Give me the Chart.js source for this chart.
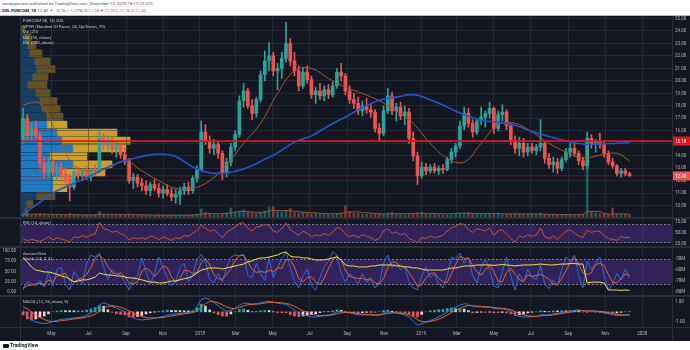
<!DOCTYPE html>
<html>
<head>
<meta charset="utf-8">
<title>FUNCOM SE, 1D</title>
<script src="https://cdn.jsdelivr.net/npm/chart.js@4.4.1/dist/chart.umd.min.js"></script>
<style>
  html, body { margin: 0; padding: 0; }
  body { width: 690px; height: 350px; position: relative; overflow: hidden; background: #fff; font-family: Roboto, "Liberation Sans", sans-serif; }
  .abs { position: absolute; }
  #panel { left: 0; top: 15px; width: 690px; height: 326px; background: #131722; border-top: 1px solid #b8bcc6; box-sizing: border-box; }
  .head { left: 2px; font-size: 4.3px; line-height: 6px; color: #50535e; white-space: nowrap; }
  .head b { color: #131722; }
  .red { color: #ef5350; }
  .leg { left: 23px; font-size: 4.4px; line-height: 5.6px; color: #c3c6ce; white-space: nowrap; }
  .hsep { left: 0; width: 690px; height: 2px; background: #2a2e39; }
  .vsep { top: 16px; width: 1px; height: 325px; background: #2a2e39; }
  canvas { position: absolute; left: 0; }
  #logo { left: 3px; top: 342px; font-size: 5px; line-height: 7px; font-weight: bold; color: #131722; }
  #logo span { display: inline-block; width: 6px; height: 4px; background: #131722; border-radius: 1px; margin-right: 1px; vertical-align: -0.5px; }
</style>
</head>
<body>
<div id="panel" class="abs"></div>
<div class="abs head" style="top:1px">savepiginvest published on TradingView.com, December 13, 2019 18:19:10 UTC</div>
<div class="abs head" style="top:8px"><b>OSL:FUNCOM, 1D</b> 12.40 <span class="red">▼</span> −0.16 (−1.27%) O:<span class="red">12.58</span> H:<span class="red">12.59</span> L:<span class="red">12.36</span> C:<span class="red">12.40</span></div>

<canvas id="vp" width="690" height="201" style="top:16px"></canvas>
<canvas id="price" width="690" height="201" style="top:16px"></canvas>
<div class="abs hsep" style="top:217px"></div>
<canvas id="rsi" width="690" height="27" style="top:219px"></canvas>
<div class="abs hsep" style="top:246px"></div>
<canvas id="stoch" width="690" height="47" style="top:248px"></canvas>
<div class="abs hsep" style="top:295px"></div>
<canvas id="macd" width="690" height="44" style="top:297px"></canvas>
<div class="abs hsep" style="top:327px;height:1px"></div>
<div class="abs vsep" style="left:20px"></div>
<div class="abs vsep" style="left:672px"></div>

<div class="abs leg" style="top:18px">FUNCOM SE, 1D, OSL<br>VPVR (Number Of Rows, 24, Up/Down, 70)<br>Vol (20)<br>MA (50, close)<br>MA (200, close)</div>
<div class="abs leg" style="top:220px">RSI (14, close)</div>
<div class="abs leg" style="top:250.5px;line-height:5px">Accum/Dist<br>Stoch (14, 3, 3)</div>
<div class="abs leg" style="top:298.5px">MACD (12, 26, close, 9)</div>
<div id="logo" class="abs"><span></span>TradingView</div>

<script>
// weekly bars, Mon 13 Mar 2017 .. Mon 9 Dec 2019
const open = [
  15.4, 17.0, 15.6, 16.2, 15.6, 13.4, 12.6, 13.5, 12.7, 13.1,
  12.5, 12.2, 11.5, 12.7, 12.4, 12.8, 12.3, 12.9, 12.8, 15.4,
  14.9, 15.2, 14.5, 14.8, 14.1, 13.6, 12.0, 12.3, 11.8, 11.6,
  11.2, 11.7, 11.4, 11.0, 11.3, 11.0, 10.7, 10.9, 11.2, 11.5,
  11.2, 12.2, 12.9, 15.9, 15.2, 14.6, 14.9, 14.2, 12.6, 13.5,
  14.7, 15.7, 18.4, 19.2, 18.0, 17.4, 18.5, 20.5, 21.6, 22.0,
  20.8, 21.0, 21.8, 23.0, 21.6, 20.8, 19.6, 20.7, 20.1, 18.9,
  19.2, 18.8, 19.3, 18.9, 19.6, 20.7, 20.4, 19.2, 18.5, 18.2,
  17.6, 18.0, 17.7, 17.5, 16.2, 15.8, 17.6, 18.8, 17.6, 17.9,
  17.2, 17.5, 15.4, 14.0, 12.4, 13.1, 12.8, 13.1, 12.8, 13.0,
  12.9, 13.7, 14.3, 14.8, 16.4, 17.4, 16.6, 15.9, 16.8, 17.1,
  17.4, 17.8, 16.2, 17.3, 17.5, 16.4, 15.2, 14.6, 15.0, 14.3,
  14.7, 14.4, 14.7, 15.0, 13.8, 13.3, 13.5, 13.0, 13.7, 14.3,
  14.6, 14.2, 13.6, 13.2, 15.4, 14.9, 15.1, 14.9, 14.2, 13.5,
  13.2, 12.6, 12.8, 12.56
];
const high = [
  17.8, 17.3, 16.6, 16.8, 15.9, 13.9, 13.9, 13.8, 13.4, 13.5,
  13.0, 12.5, 12.9, 13.1, 13.0, 13.2, 13.0, 13.3, 16.1, 15.8,
  15.6, 15.5, 15.1, 15.2, 14.6, 13.8, 12.6, 12.5, 12.2, 12.0,
  11.9, 12.1, 11.8, 11.6, 11.7, 11.4, 11.3, 11.5, 11.8, 11.9,
  12.4, 13.2, 16.8, 16.5, 15.6, 15.3, 15.2, 14.4, 13.8, 15.0,
  16.0, 18.8, 19.8, 19.4, 18.5, 18.7, 20.8, 22.4, 23.1, 22.3,
  21.4, 22.3, 24.7, 23.4, 22.3, 21.2, 21.1, 21.2, 20.4, 19.5,
  19.8, 19.6, 19.7, 19.9, 21.0, 21.4, 20.6, 19.6, 19.0, 18.7,
  18.4, 18.6, 18.2, 17.7, 16.6, 18.0, 19.4, 19.1, 18.2, 18.3,
  18.0, 17.8, 15.9, 14.3, 13.5, 13.4, 13.3, 13.4, 13.2, 13.3,
  13.9, 14.6, 15.0, 16.8, 17.9, 17.8, 16.9, 17.0, 17.9, 17.6,
  18.3, 17.9, 17.6, 18.1, 17.7, 16.6, 15.6, 15.5, 15.4, 15.0,
  15.0, 14.9, 16.9, 15.2, 14.2, 13.9, 13.8, 13.9, 14.6, 15.0,
  15.0, 14.4, 13.9, 15.9, 15.7, 15.3, 15.8, 15.2, 14.4, 13.8,
  13.3, 13.0, 13.0, 12.7
];
const low = [
  15.0, 15.3, 15.2, 15.4, 13.0, 12.2, 12.3, 12.4, 12.0, 12.2,
  11.8, 10.4, 11.3, 12.1, 12.0, 12.1, 12.0, 12.4, 12.6, 14.5,
  14.4, 14.2, 13.9, 13.8, 13.3, 11.8, 11.4, 11.5, 11.2, 10.9,
  10.8, 11.2, 10.7, 10.6, 10.8, 10.4, 10.2, 10.1, 10.9, 10.9,
  11.0, 11.9, 12.8, 14.9, 14.2, 14.1, 13.8, 12.1, 12.3, 13.2,
  14.4, 15.5, 17.9, 17.8, 16.9, 17.1, 18.3, 20.0, 20.8, 20.4,
  19.3, 20.2, 21.5, 21.2, 20.4, 19.2, 19.4, 19.8, 18.6, 18.2,
  18.5, 18.4, 18.6, 18.7, 19.4, 20.0, 18.9, 18.2, 17.8, 17.3,
  17.2, 17.4, 17.1, 15.9, 15.2, 15.6, 17.4, 17.3, 16.8, 16.9,
  16.5, 15.0, 13.6, 11.7, 12.2, 12.5, 12.6, 12.6, 12.5, 12.6,
  12.8, 13.4, 13.9, 14.6, 16.1, 16.3, 15.5, 15.7, 16.5, 16.3,
  17.0, 15.8, 16.0, 16.8, 16.1, 14.9, 14.2, 14.0, 13.9, 14.0,
  14.2, 14.1, 14.4, 13.4, 13.0, 12.7, 12.6, 12.8, 13.5, 13.9,
  14.0, 13.3, 12.9, 13.0, 14.6, 14.3, 14.6, 13.9, 13.3, 13.0,
  12.4, 12.3, 12.4, 12.36
];
const close = [
  17.0, 15.6, 16.2, 15.6, 13.4, 12.6, 13.5, 12.7, 13.1, 12.5,
  12.2, 11.5, 12.7, 12.4, 12.8, 12.3, 12.9, 12.8, 15.4, 14.9,
  15.2, 14.5, 14.8, 14.1, 13.6, 12.0, 12.3, 11.8, 11.6, 11.2,
  11.7, 11.4, 11.0, 11.3, 11.0, 10.7, 10.9, 11.2, 11.5, 11.2,
  12.2, 12.9, 15.9, 15.2, 14.6, 14.9, 14.2, 12.6, 13.5, 14.7,
  15.7, 18.4, 19.2, 18.0, 17.4, 18.5, 20.5, 21.6, 22.0, 20.8,
  21.0, 21.8, 23.0, 21.6, 20.8, 19.6, 20.7, 20.1, 18.9, 19.2,
  18.8, 19.3, 18.9, 19.6, 20.7, 20.4, 19.2, 18.5, 18.2, 17.6,
  18.0, 17.7, 17.5, 16.2, 15.8, 17.6, 18.8, 17.6, 17.9, 17.2,
  17.5, 15.4, 14.0, 12.4, 13.1, 12.8, 13.1, 12.8, 13.0, 12.9,
  13.7, 14.3, 14.8, 16.4, 17.4, 16.6, 15.9, 16.8, 17.1, 17.4,
  17.8, 16.2, 17.3, 17.5, 16.4, 15.2, 14.6, 15.0, 14.3, 14.7,
  14.4, 14.7, 15.0, 13.8, 13.3, 13.5, 13.0, 13.7, 14.3, 14.6,
  14.2, 13.6, 13.2, 15.4, 14.9, 15.1, 14.9, 14.2, 13.5, 13.2,
  12.6, 12.8, 12.56, 12.40
];
// thousand shares
const volume = [
  30, 25, 22, 28, 35, 26, 20, 24, 18, 22,
  20, 34, 25, 18, 16, 20, 18, 22, 55, 30,
  24, 20, 22, 18, 20, 32, 26, 22, 18, 20,
  16, 18, 22, 15, 18, 20, 16, 22, 18, 16,
  26, 30, 80, 45, 30, 24, 22, 36, 40, 90,
  50, 60, 70, 50, 40, 36, 45, 60, 95, 100,
  55, 50, 60, 85, 45, 40, 45, 35, 30, 40,
  30, 28, 25, 30, 35, 40, 110, 55, 40, 35,
  30, 28, 25, 30, 35, 30, 40, 45, 30, 28,
  25, 24, 30, 40, 45, 35, 28, 25, 24, 22,
  20, 22, 30, 35, 40, 45, 35, 30, 28, 32,
  30, 35, 40, 30, 26, 32, 40, 34, 30, 28,
  26, 24, 40, 26, 24, 22, 20, 22, 18, 22,
  20, 24, 26, 640, 50, 40, 35, 30, 28, 90,
  30, 28, 26, 24
];
const volMa = [
  28, 27, 27, 27, 28, 28, 27, 26, 25, 24,
  24, 25, 24, 23, 22, 21, 20, 21, 25, 26,
  27, 27, 26, 25, 24, 24, 24, 23, 22, 21,
  20, 19, 19, 19, 18, 18, 18, 18, 18, 18,
  19, 21, 28, 33, 35, 34, 32, 33, 35, 42,
  48, 52, 55, 53, 50, 47, 46, 50, 58, 65,
  66, 64, 65, 62, 58, 52, 48, 44, 42, 40,
  37, 35, 33, 32, 33, 35, 45, 50, 52, 50,
  46, 42, 38, 35, 32, 30, 31, 32, 32, 33,
  33, 34, 36, 38, 38, 37, 36, 34, 33, 32,
  32, 33, 35, 37, 38, 38, 36, 34, 33, 33,
  34, 34, 34, 33, 32, 31, 30, 30, 31, 32,
  31, 30, 29, 28, 27, 26, 25, 25, 25, 24,
  24, 24, 25, 55, 55, 56, 56, 35, 30, 30,
  32, 31, 30, 29
];

// moving averages, read every fourth week
const maWeeks = [0, 4, 8, 12, 16, 20, 24, 28, 32, 36, 40, 44, 48, 52, 56, 60, 64, 68, 72,
  76, 80, 84, 88, 92, 96, 100, 104, 108, 112, 116, 120, 124, 128, 132, 136, 140, 143];
const ma50 = [18.1, 18.2, 15.8, 13.2, 12.8, 13.0, 13.6, 12.8, 12.0, 11.4, 11.4, 12.0, 13.3,
  15.0, 16.6, 19.0, 20.8, 21.0, 20.2, 19.5, 19.0, 18.4, 17.6, 16.6, 15.0, 13.8, 13.5, 15.0,
  16.5, 16.6, 15.9, 15.0, 14.3, 13.8, 14.05, 14.2, 13.6];
const ma200 = [9.3, 10.3, 11.2, 11.8, 12.4, 13.1, 13.6, 13.95, 14.15, 13.95, 13.1, 12.64,
  12.64, 12.95, 13.55, 14.24, 15.1, 15.6, 16.4, 17.1, 17.85, 18.45, 18.7, 18.9, 18.5, 17.9,
  17.3, 16.85, 16.7, 16.45, 15.95, 15.55, 15.2, 14.95, 14.95, 15.0, 15.05];

// volume profile rows, top to bottom (thousand shares)
const vpPrices = [24.13, 23.49, 22.86, 22.22, 21.58, 20.95, 20.31, 19.68, 19.04, 18.40, 17.77, 17.13,
  16.50, 15.86, 15.22, 14.59, 13.95, 13.32, 12.68, 12.04, 11.41, 10.77, 10.14, 9.50];
const vpUp = [20, 50, 80, 100, 150, 170, 130, 80, 160, 200, 220, 270,
  270, 370, 420, 530, 300, 530, 400, 330, 330, 170, 70, 50];
const vpDown = [30, 60, 80, 120, 150, 180, 150, 190, 140, 170, 180, 160,
  200, 600, 680, 530, 370, 390, 450, 200, 140, 180, 60, 30];
const valueArea = [11.1, 16.8];

const rsi = [
  38, 33, 36, 34, 31, 36, 42, 35, 40, 37,
  34, 30, 42, 40, 45, 41, 46, 48, 75, 60,
  58, 52, 55, 49, 45, 35, 40, 37, 40, 36,
  44, 41, 35, 42, 38, 34, 40, 38, 45, 43,
  50, 56, 68, 62, 55, 58, 50, 40, 52, 58,
  64, 72, 74, 62, 55, 64, 66, 70, 68, 55,
  52, 60, 73, 58, 52, 45, 55, 50, 42, 46,
  44, 49, 45, 52, 63, 60, 48, 42, 46, 40,
  47, 43, 40, 34, 38, 56, 60, 50, 53, 46,
  50, 38, 34, 28, 40, 38, 44, 40, 42, 45,
  55, 62, 66, 72, 70, 58, 52, 60, 58, 55,
  62, 45, 56, 58, 48, 38, 30, 44, 40, 47,
  43, 46, 62, 42, 38, 44, 36, 46, 55, 58,
  50, 44, 40, 57, 52, 55, 54, 44, 38, 36,
  34, 42, 40, 41
];
const stochK = [
  5, 25, 20, 15, 28, 12, 48, 15, 55, 60,
  20, 5, 50, 35, 20, 70, 90, 85, 95, 60,
  30, 55, 45, 40, 25, 5, 30, 40, 83, 50,
  20, 45, 85, 60, 35, 15, 25, 60, 70, 25,
  40, 80, 92, 75, 30, 22, 45, 25, 60, 85,
  90, 88, 92, 40, 35, 70, 45, 28, 85, 35,
  60, 80, 97, 60, 25, 10, 40, 55, 15, 5,
  35, 62, 75, 98, 90, 45, 25, 45, 35, 20,
  45, 25, 30, 10, 20, 70, 90, 60, 70, 55,
  60, 25, 10, 5, 40, 60, 35, 45, 20, 10,
  40, 85, 80, 95, 70, 85, 40, 22, 60, 80,
  55, 15, 10, 50, 85, 40, 5, 45, 25, 55,
  35, 30, 65, 20, 8, 30, 15, 55, 85, 75,
  90, 40, 10, 75, 55, 70, 85, 40, 5, 20,
  45, 30, 56, 34
];
const stochD = [
  10, 15, 17, 20, 21, 18, 29, 25, 39, 43,
  45, 28, 25, 30, 35, 42, 60, 82, 90, 80,
  62, 48, 43, 47, 37, 23, 20, 25, 51, 58,
  51, 38, 50, 63, 60, 37, 25, 33, 52, 52,
  45, 48, 71, 82, 66, 42, 32, 31, 43, 57,
  78, 88, 90, 73, 56, 48, 50, 48, 53, 49,
  59, 58, 79, 79, 61, 32, 25, 35, 37, 25,
  18, 34, 57, 78, 88, 78, 53, 38, 35, 33,
  33, 30, 33, 22, 20, 33, 60, 73, 73, 62,
  62, 47, 32, 13, 18, 35, 45, 47, 33, 25,
  23, 45, 68, 87, 82, 83, 65, 49, 41, 54,
  65, 50, 27, 25, 48, 58, 43, 30, 25, 42,
  38, 40, 43, 38, 31, 19, 18, 33, 52, 72,
  83, 68, 47, 42, 47, 67, 70, 65, 43, 22,
  23, 32, 44, 40
];
// accumulation / distribution, millions
const accDist = [
  -49.6, -53, -57.6, -60.3, -61, -62, -62, -62.9, -64, -65.6,
  -66.5, -68.2, -70.9, -70, -69, -69, -68, -66.5, -63, -64,
  -64.7, -64.7, -65.6, -65.6, -66.5, -67.3, -67.3, -68, -69, -70,
  -71, -71, -71.8, -71.8, -71, -70, -70, -69, -68, -67.3,
  -65.6, -63, -60.3, -59.4, -58.5, -58.5, -58.5, -59.4, -58.5, -57.6,
  -56.7, -55.8, -55, -53, -52.3, -50.5, -49.6, -49.6, -48.8, -47.9,
  -47, -45.2, -44.3, -47.9, -48.8, -48.8, -49.6, -49.6, -50.5, -51.4,
  -51.4, -51.4, -50.5, -49.6, -48.8, -51.4, -55.8, -56.7, -56.7, -57.6,
  -57.6, -57.6, -56.7, -56.7, -55.8, -55.8, -55.8, -55.8, -56.7, -56.7,
  -57.6, -57.6, -58.5, -58.5, -59.4, -60.3, -60.3, -60.3, -60.3, -60.3,
  -59.4, -58.5, -58.5, -57.6, -56.7, -56.7, -56.7, -55.8, -55.8, -55.8,
  -55.8, -56.2, -55.8, -55.4, -55.8, -56.2, -56.7, -56.2, -55.8, -55.8,
  -55.8, -55.4, -55, -55.4, -55.8, -55.8, -55.4, -55, -55, -54.6,
  -54.6, -55, -55, -71.8, -71, -71, -71, -71.8, -78, -78,
  -78, -78.3, -78, -78.3
];
const macd = [
  0.2, -0.4, -0.8, -1.0, -1.1, -1.15, -1.1, -0.95, -0.85, -0.75,
  -0.7, -0.65, -0.6, -0.55, -0.5, -0.35, -0.1, 0.2, 0.68, 0.9,
  0.75, 0.55, 0.35, 0.2, 0, -0.4, -0.6, -0.75, -0.8, -0.75,
  -0.7, -0.62, -0.55, -0.45, -0.3, -0.25, -0.2, -0.15, -0.1, -0.05,
  0.05, 0.5, 1.2, 1.37, 1.2, 0.9, 0.6, 0.3, 0.05, 0.15,
  0.35, 0.65, 0.85, 0.85, 0.75, 0.8, 0.9, 1.0, 1.05, 0.95,
  0.85, 0.8, 0.75, 0.45, 0.15, -0.15, -0.3, -0.4, -0.5, -0.5,
  -0.45, -0.35, -0.3, -0.2, 0, 0.05, -0.05, -0.1, -0.2, -0.3,
  -0.3, -0.3, -0.3, -0.35, -0.3, -0.1, 0, -0.05, -0.1, -0.2,
  -0.3, -0.5, -0.9, -1.3, -1.2, -1.0, -0.85, -0.7, -0.5, -0.3,
  0, 0.3, 0.45, 0.65, 0.8, 0.75, 0.5, 0.5, 0.5, 0.45,
  0.45, 0.35, 0.3, 0.3, 0.2, 0, -0.3, -0.45, -0.5, -0.5,
  -0.48, -0.45, -0.3, -0.3, -0.32, -0.2, -0.15, -0.05, 0, 0.1,
  0.15, 0.2, 0.1, 0.05, 0.1, 0.05, 0, -0.1, -0.2, -0.3,
  -0.35, -0.35, -0.3, -0.28
];
const signal = [
  0.5, 0.3, 0, -0.3, -0.55, -0.75, -0.9, -0.95, -0.93, -0.88,
  -0.82, -0.76, -0.7, -0.65, -0.6, -0.52, -0.4, -0.22, 0.05, 0.35,
  0.55, 0.6, 0.55, 0.45, 0.3, 0.1, -0.1, -0.3, -0.45, -0.55,
  -0.6, -0.6, -0.58, -0.55, -0.48, -0.4, -0.33, -0.27, -0.2, -0.14,
  -0.08, 0.1, 0.45, 0.8, 1.0, 1.0, 0.88, 0.7, 0.48, 0.35,
  0.33, 0.42, 0.58, 0.7, 0.74, 0.76, 0.8, 0.86, 0.92, 0.94,
  0.92, 0.88, 0.84, 0.72, 0.55, 0.32, 0.1, -0.08, -0.22, -0.32,
  -0.38, -0.38, -0.35, -0.3, -0.2, -0.1, -0.06, -0.07, -0.1, -0.16,
  -0.22, -0.25, -0.27, -0.3, -0.3, -0.24, -0.16, -0.11, -0.1, -0.13,
  -0.18, -0.28, -0.48, -0.78, -0.95, -1.0, -0.95, -0.85, -0.72, -0.55,
  -0.33, -0.08, 0.15, 0.35, 0.52, 0.62, 0.6, 0.56, 0.53, 0.5,
  0.48, 0.43, 0.38, 0.35, 0.3, 0.2, 0.02, -0.16, -0.3, -0.4,
  -0.44, -0.45, -0.4, -0.36, -0.34, -0.3, -0.24, -0.16, -0.1, -0.03,
  0.04, 0.1, 0.12, 0.1, 0.1, 0.08, 0.05, 0, -0.08, -0.17,
  -0.25, -0.3, -0.31, -0.3
];
const hist = [
  -0.3, -0.7, -0.8, -0.7, -0.55, -0.4, -0.2, 0, 0.08, 0.13,
  0.12, 0.11, 0.1, 0.1, 0.1, 0.17, 0.3, 0.42, 0.63, 0.55,
  0.2, -0.05, -0.2, -0.25, -0.3, -0.5, -0.5, -0.45, -0.35, -0.2,
  -0.1, -0.02, 0.03, 0.1, 0.18, 0.15, 0.13, 0.12, 0.1, 0.09,
  0.13, 0.4, 0.75, 0.57, 0.2, -0.1, -0.28, -0.4, -0.43, -0.2,
  0.02, 0.23, 0.27, 0.15, 0.01, 0.04, 0.1, 0.14, 0.13, 0.01,
  -0.07, -0.08, -0.09, -0.27, -0.4, -0.47, -0.4, -0.32, -0.28, -0.18,
  -0.07, 0.03, 0.05, 0.1, 0.2, 0.15, 0.01, -0.03, -0.1, -0.14,
  -0.08, -0.05, -0.03, -0.05, 0, 0.14, 0.16, 0.06, 0, -0.07,
  -0.12, -0.22, -0.42, -0.52, -0.25, 0, 0.1, 0.15, 0.22, 0.25,
  0.33, 0.38, 0.3, 0.3, 0.28, 0.13, -0.1, -0.06, -0.03, -0.05,
  -0.03, -0.08, -0.08, -0.05, -0.1, -0.2, -0.32, -0.29, -0.2, -0.1,
  -0.04, 0, 0.1, 0.06, 0.02, 0.1, 0.09, 0.11, 0.1, 0.13,
  0.11, 0.1, -0.02, -0.05, 0, -0.03, -0.05, -0.1, -0.12, -0.13,
  -0.1, -0.05, 0.01, 0.02
];

// horizontal line drawn on the price pane
const drawnLevel = 15.18;
const lastClose = close[close.length - 1];

const tickDates = ['2017-05-01', '2017-07-01', '2017-09-01', '2017-11-01', '2018-01-01', '2018-03-01',
  '2018-05-01', '2018-07-01', '2018-09-01', '2018-11-01', '2019-01-01', '2019-03-01', '2019-05-01',
  '2019-07-01', '2019-09-01', '2019-11-01', '2020-01-01'];
const tickLabels = ['May', 'Jul', 'Sep', 'Nov', '2018', 'Mar', 'May', 'Jul', 'Sep', 'Nov', '2019',
  'Mar', 'May', 'Jul', 'Sep', 'Nov', '2020'];
const priceTicks = [10, 11, 12, 13, 14, 15, 16, 17, 18, 19, 20, 21, 22, 23, 24, 25];
const rsiTicks = [25, 50, 75];
const stochTicks = [0, 25, 50, 75, 100];
const adTicks = [-50, -60, -70, -80];
const macdTicks = [1, -1];

const FONT = 'Roboto, "Liberation Sans", sans-serif';
const TXT = '#b2b5be';
const GRID = 'rgba(54,58,69,0.5)';
const UP = '#26a69a';
const DOWN = '#ef5350';
const BAND = 'rgba(120,60,220,0.3)';

const xMin = Date.UTC(2017, 2, 10);
const xMax = Date.UTC(2020, 1, 19);
const priceMin = 9.1, priceMax = 25.2;
const DAY = 864e5;
const firstBar = Date.UTC(2017, 2, 15);
const barX = close.map((_, i) => firstBar + i * 7 * DAY);
const pts = vals => vals.map((v, i) => ({ x: barX[i], y: v }));
const maPts = vals => vals.map((v, k) => ({ x: barX[maWeeks[k]], y: v }));
const flat = v => [{ x: xMin, y: v }, { x: xMax, y: v }];

const candleColor = close.map((c, i) => c >= open[i] ? UP : DOWN);
const volColor = close.map((c, i) => c >= open[i] ? 'rgba(38,166,154,0.5)' : 'rgba(239,83,80,0.5)');
const histColor = hist.map((h, i) => {
  const prev = i ? hist[i - 1] : 0;
  if (h >= 0) return h >= prev ? '#26a69a' : '#b2dfdb';
  return h <= prev ? '#ef5350' : '#ffcdd2';
});

const font = { size: 4.5, family: FONT };

function xScale(showLabels) {
  return {
    type: 'linear', min: xMin, max: xMax, offset: false,
    afterBuildTicks: s => { s.ticks = tickDates.map(d => ({ value: Date.parse(d) })); },
    afterFit: s => { s.height = showLabels ? 14 : 0; s.paddingLeft = 0; s.paddingRight = 0; },
    grid: { color: GRID, drawTicks: false, offset: false },
    border: { display: false },
    ticks: {
      display: showLabels, color: TXT, font, padding: 4, maxRotation: 0, autoSkip: false,
      callback: (v, i) => tickLabels[i]
    }
  };
}

function yScale(pos, min, max, ticks, fmt, width, grid = true) {
  return {
    type: 'linear', position: pos, min, max, beginAtZero: false,
    afterBuildTicks: s => { s.ticks = ticks.map(v => ({ value: v })); },
    afterFit: s => { s.width = width; s.paddingTop = 0; s.paddingBottom = 0; },
    grid: { display: grid, color: GRID, drawTicks: false },
    border: { display: false },
    ticks: { color: TXT, font, padding: pos === 'left' ? 4 : 3, callback: fmt }
  };
}

const base = {
  responsive: false, animation: false, devicePixelRatio: 1, events: [],
};
const quiet = { legend: { display: false }, tooltip: { enabled: false } };

// shaded band with dashed borders (RSI, Stoch)
const bandPlugin = {
  id: 'band',
  beforeDatasetsDraw(chart, args, opts) {
    const { ctx, chartArea: a } = chart;
    const y = chart.scales[opts.axis];
    const y1 = Math.round(y.getPixelForValue(opts.from)) + 0.5;
    const y2 = Math.round(y.getPixelForValue(opts.to)) + 0.5;
    ctx.save();
    ctx.fillStyle = BAND;
    ctx.fillRect(a.left, y1, a.right - a.left, y2 - y1);
    ctx.strokeStyle = '#787b86';
    ctx.lineWidth = 1;
    ctx.setLineDash([2, 2]);
    [y1, y2].forEach(yy => {
      ctx.beginPath(); ctx.moveTo(a.left, yy); ctx.lineTo(a.right, yy); ctx.stroke();
    });
    ctx.restore();
  }
};

// coloured value tags on the price scale
const priceTags = [
  { value: drawnLevel, color: '#e0161c' },
  { value: lastClose, color: '#ef5350' }
];
const tagPlugin = {
  id: 'tags',
  afterDraw(chart) {
    const { ctx, chartArea: a } = chart;
    const y = chart.scales.y;
    priceTags.forEach(t => {
      const py = Math.round(y.getPixelForValue(t.value));
      ctx.save();
      ctx.fillStyle = t.color;
      ctx.fillRect(a.right + 1, py - 4.5, chart.width - a.right - 1, 9);
      ctx.fillStyle = '#fff';
      ctx.font = `4.5px ${FONT}`;
      ctx.textBaseline = 'middle';
      ctx.fillText(t.value.toFixed(2), a.right + 3, py + 0.5);
      ctx.restore();
    });
  }
};

// volume profile (sits behind the candles)
const inVA = p => p >= valueArea[0] && p <= valueArea[1];
new Chart(document.getElementById('vp'), {
  type: 'bar',
  data: {
    datasets: [
      {
        data: vpPrices.map((p, k) => ({ y: p, x: vpUp[k] })),
        backgroundColor: vpPrices.map(p => inVA(p) ? 'rgba(33,150,243,0.78)' : 'rgba(33,150,243,0.33)'),
        barThickness: 7, stack: 'vp'
      },
      {
        data: vpPrices.map((p, k) => ({ y: p, x: vpDown[k] })),
        backgroundColor: vpPrices.map(p => inVA(p) ? 'rgba(251,192,45,0.8)' : 'rgba(251,192,45,0.35)'),
        barThickness: 7, stack: 'vp'
      }
    ]
  },
  options: {
    ...base, indexAxis: 'y',
    layout: { padding: { left: 20, right: 18, top: 0, bottom: 0 } },
    plugins: quiet,
    scales: {
      x: { type: 'linear', min: 0, max: 6520, display: false, stacked: true },
      y: { type: 'linear', min: priceMin, max: priceMax, display: false, stacked: true, offset: false }
    }
  }
});

new Chart(document.getElementById('price'), {
  type: 'bar',
  data: {
    datasets: [
      { type: 'line', data: flat(drawnLevel), borderColor: '#e0161c', borderWidth: 1.6, pointRadius: 0, order: 0 },
      { type: 'line', data: maPts(ma200), borderColor: '#1f55d4', borderWidth: 1.6, pointRadius: 0, tension: 0.4, order: 1 },
      { type: 'line', data: maPts(ma50), borderColor: '#a3592a', borderWidth: 1, pointRadius: 0, tension: 0.4, order: 2 },
      { type: 'line', data: flat(lastClose), borderColor: 'rgba(239,83,80,0.5)', borderWidth: 1, borderDash: [1, 1], pointRadius: 0, order: 3 },
      { data: barX.map((x, i) => ({ x, y: [open[i], close[i]] })), backgroundColor: candleColor, barThickness: 3, minBarLength: 1, grouped: false, order: 4 },
      { data: barX.map((x, i) => ({ x, y: [low[i], high[i]] })), backgroundColor: candleColor, barThickness: 1, grouped: false, order: 5 },
      { type: 'line', yAxisID: 'vol', data: pts(volMa), borderColor: '#8c5a33', borderWidth: 1, pointRadius: 0, order: 6 },
      { yAxisID: 'vol', data: pts(volume), backgroundColor: volColor, barThickness: 2, grouped: false, order: 7 }
    ]
  },
  options: {
    ...base,
    layout: { padding: { left: 20, right: 0, top: 0, bottom: 0 } },
    plugins: quiet,
    scales: {
      x: xScale(false),
      y: yScale('right', priceMin, priceMax, priceTicks, v => v.toFixed(2), 18),
      vol: { type: 'linear', display: false, min: 0, max: 2000 }
    }
  },
  plugins: [tagPlugin]
});

new Chart(document.getElementById('rsi'), {
  type: 'line',
  data: { datasets: [{ data: pts(rsi), borderColor: '#c4552d', borderWidth: 1, pointRadius: 0 }] },
  options: {
    ...base,
    layout: { padding: { left: 20, right: 0, top: 0, bottom: 0 } },
    plugins: { ...quiet, band: { axis: 'y', from: 70, to: 30 } },
    scales: { x: xScale(false), y: yScale('right', 21, 82.4, rsiTicks, v => v.toFixed(2), 18, false) }
  },
  plugins: [bandPlugin]
});

new Chart(document.getElementById('stoch'), {
  type: 'line',
  data: {
    datasets: [
      { yAxisID: 'ad', data: pts(accDist), borderColor: '#f2e33a', borderWidth: 1, pointRadius: 0, order: 0 },
      { data: pts(stochD), borderColor: '#e2642c', borderWidth: 1, pointRadius: 0, order: 1 },
      { data: pts(stochK), borderColor: '#2d6be0', borderWidth: 1, pointRadius: 0, order: 2 }
    ]
  },
  options: {
    ...base,
    layout: { padding: 0 },
    plugins: { ...quiet, band: { axis: 'y', from: 80, to: 20 } },
    scales: {
      x: xScale(false),
      y: yScale('left', -7.3, 107.3, stochTicks, v => v.toFixed(2), 20, false),
      ad: yScale('right', -82.4, -40.8, adTicks, v => v + 'M', 18, false)
    }
  },
  plugins: [bandPlugin]
});

new Chart(document.getElementById('macd'), {
  type: 'bar',
  data: {
    datasets: [
      { type: 'line', data: pts(macd), borderColor: '#2a78e4', borderWidth: 1, pointRadius: 0, order: 1 },
      { type: 'line', data: pts(signal), borderColor: '#e2642c', borderWidth: 1, pointRadius: 0, order: 0 },
      { data: pts(hist), backgroundColor: histColor, barThickness: 2, grouped: false, order: 2 }
    ]
  },
  options: {
    ...base,
    layout: { padding: { left: 20, right: 0, top: 0, bottom: 0 } },
    plugins: quiet,
    scales: {
      x: xScale(true),
      y: yScale('right', -1.49, 1.46, macdTicks, v => v.toFixed(2), 18, false)
    }
  }
});
</script>
</body>
</html>
